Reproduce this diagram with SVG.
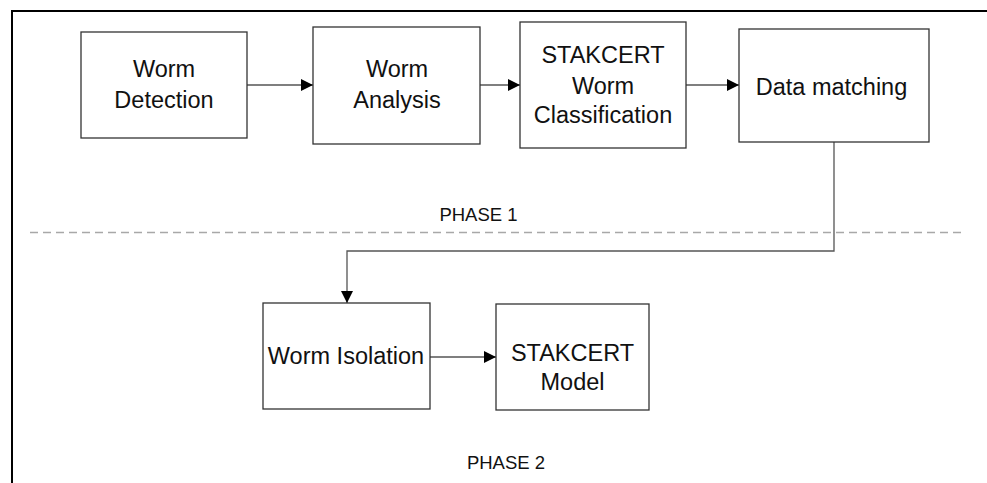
<svg xmlns="http://www.w3.org/2000/svg" width="987" height="483" viewBox="0 0 987 483">
  <style>
    .box { fill: #ffffff; stroke: #333333; stroke-width: 1.3; }
    .lbl { font-family: "Liberation Sans", Arial, sans-serif; font-size: 23.5px; fill: #111111; text-anchor: middle; }
    .phase { font-family: "Liberation Sans", Arial, sans-serif; font-size: 18.5px; fill: #111111; text-anchor: middle; }
    .conn { fill: none; stroke: #555555; stroke-width: 1.3; }
  </style>
  <defs>
    <marker id="arrow" viewBox="0 0 12 12" refX="12" refY="6" markerWidth="12" markerHeight="12" markerUnits="userSpaceOnUse" orient="auto">
      <path d="M0,0 L12,6 L0,12 Z" fill="#000000"/>
    </marker>
  </defs>
  <rect width="987" height="483" fill="#ffffff"/>

  <!-- outer frame (left and top edges) -->
  <polyline points="12,483 12,11 987,11" fill="none" stroke="#000000" stroke-width="2"/>

  <!-- phase separator -->
  <line x1="30" y1="232.5" x2="962" y2="232.5" stroke="#a8a8a8" stroke-width="1.5" stroke-dasharray="8,5"/>
  <text class="phase" x="478.5" y="221">PHASE 1</text>
  <text class="phase" x="506" y="469">PHASE 2</text>

  <g id="connectors">
    <line class="conn" x1="247" y1="85" x2="313" y2="85" marker-end="url(#arrow)"/>
    <line class="conn" x1="480" y1="85" x2="520" y2="85" marker-end="url(#arrow)"/>
    <line class="conn" x1="686" y1="85" x2="739" y2="85" marker-end="url(#arrow)"/>
    <polyline class="conn" points="834,142 834,251 347,251 347,303" marker-end="url(#arrow)"/>
    <line class="conn" x1="430" y1="357" x2="496" y2="357" marker-end="url(#arrow)"/>
  </g>

  <g id="worm-detection">
    <rect class="box" x="81" y="32" width="166" height="106"/>
    <text class="lbl" x="164" y="77">Worm</text>
    <text class="lbl" x="164" y="108">Detection</text>
  </g>

  <g id="worm-analysis">
    <rect class="box" x="313" y="27" width="167" height="117"/>
    <text class="lbl" x="397" y="77">Worm</text>
    <text class="lbl" x="397" y="108">Analysis</text>
  </g>

  <g id="stakcert-classification">
    <rect class="box" x="520" y="22" width="166" height="126"/>
    <text class="lbl" x="603" y="63">STAKCERT</text>
    <text class="lbl" x="603" y="94">Worm</text>
    <text class="lbl" x="603" y="123">Classification</text>
  </g>

  <g id="data-matching">
    <rect class="box" x="739" y="29" width="190" height="113"/>
    <text class="lbl" x="831.5" y="95">Data matching</text>
  </g>

  <g id="worm-isolation">
    <rect class="box" x="263" y="303" width="167" height="106"/>
    <text class="lbl" x="346" y="364">Worm Isolation</text>
  </g>

  <g id="stakcert-model">
    <rect class="box" x="496" y="304" width="153" height="106"/>
    <text class="lbl" x="572.5" y="361">STAKCERT</text>
    <text class="lbl" x="572.5" y="390">Model</text>
  </g>
</svg>
